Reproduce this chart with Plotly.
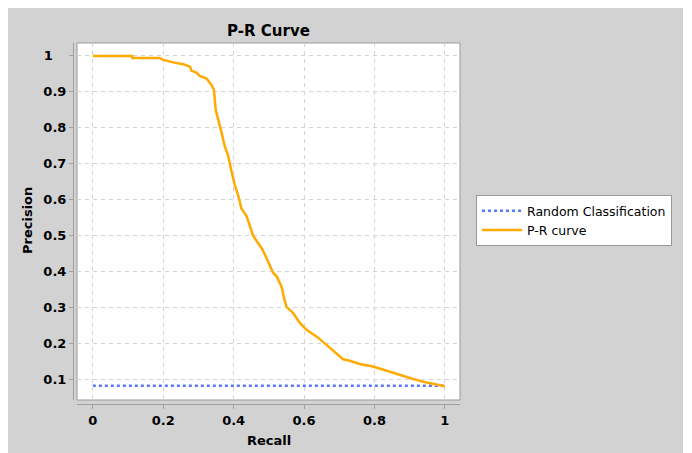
import plotly.graph_objects as go

# Data
recall = [0, 0.111, 0.112, 0.19, 0.2, 0.228, 0.257, 0.276, 0.280, 0.295, 0.304, 0.323,
          0.337, 0.344, 0.349, 0.356, 0.366, 0.375, 0.384, 0.394, 0.403, 0.415, 0.422,
          0.437, 0.446, 0.455, 0.465, 0.479, 0.489, 0.503, 0.512, 0.522, 0.536, 0.543,
          0.550, 0.569, 0.588, 0.607, 0.636, 0.664, 0.692, 0.711, 0.730, 0.758, 0.796,
          0.834, 0.872, 0.910, 0.948, 0.986, 1.0]
precision = [1, 1, 0.994, 0.994, 0.989, 0.982, 0.977, 0.970, 0.959, 0.953, 0.944, 0.937,
             0.919, 0.905, 0.850, 0.826, 0.785, 0.747, 0.724, 0.678, 0.641, 0.604, 0.575,
             0.553, 0.525, 0.500, 0.485, 0.465, 0.446, 0.418, 0.396, 0.386, 0.358, 0.326,
             0.301, 0.284, 0.256, 0.237, 0.218, 0.195, 0.172, 0.155, 0.151, 0.142, 0.135,
             0.123, 0.110, 0.100, 0.090, 0.082, 0.080]
random_x = [0, 1]
random_y = [0.081, 0.081]

x_ticks = [0, 0.2, 0.4, 0.6, 0.8, 1]
x_labels = ["0", "0.2", "0.4", "0.6", "0.8", "1"]
y_ticks = [0.1, 0.2, 0.3, 0.4, 0.5, 0.6, 0.7, 0.8, 0.9, 1]
y_labels = ["0.1", "0.2", "0.3", "0.4", "0.5", "0.6", "0.7", "0.8", "0.9", "1"]

# The page body adds an 8px margin; positions below are measured in the window, minus 8.
OFF = 8
W, H = 675, 445
FONT = "DejaVu Sans"
AXC = "#a0a0a0"


def px(v):
    return (v - OFF) / W


def py(v):
    return 1 - (v - OFF) / H


# y tick labels are left-aligned in the reference: pad the short one
y_text = [lab + "\u00a0" * 3 if len(lab) == 1 else lab for lab in y_labels]

fig = go.Figure()
fig.add_trace(go.Scatter(x=random_x, y=random_y, mode="lines", name="Random Classification",
                         line=dict(color="#5878f8", width=2.5, dash="3px,3px")))
fig.add_trace(go.Scatter(x=recall, y=precision, mode="lines", name="P-R curve",
                         line=dict(color="#ffaa00", width=2.5)))

grid = dict(showgrid=True, gridcolor="#d4d4d4", gridwidth=1, griddash="4px,4px", zeroline=False)
tickfont = dict(family=FONT, size=13, color="black", weight="bold")

fig.update_layout(
    width=W, height=H,
    margin=dict(l=0, r=0, t=0, b=0),
    paper_bgcolor="#d2d2d2", plot_bgcolor="white",
    font=dict(family=FONT, color="black"),
    title=dict(text="<b>P-R Curve</b>", x=px(268.5), xanchor="center", xref="paper",
               y=py(31), yanchor="middle", font=dict(family=FONT, size=15, color="black")),
    xaxis=dict(domain=[px(77), px(460)], range=[-0.045, 1.043], tickvals=x_ticks,
               ticktext=x_labels,
               anchor="free", position=py(404), showline=True, linecolor=AXC, linewidth=1,
               ticks="outside", ticklen=4, tickcolor=AXC, tickfont=tickfont, **grid),
    yaxis=dict(domain=[py(400), py(43)], range=[0.0415, 1.036], tickvals=y_ticks,
               ticktext=y_text,
               anchor="free", position=px(73), showline=True, linecolor=AXC, linewidth=1,
               ticks="outside", ticklen=4, tickcolor=AXC, tickfont=tickfont, **grid),
    showlegend=True,
    legend=dict(x=px(476), y=py(195), xanchor="left", yanchor="top",
                bgcolor="white", bordercolor="#999999", borderwidth=1, itemwidth=40,
                font=dict(family=FONT, size=12.5, color="black")),
    shapes=[
        dict(type="rect", xref="x domain", yref="y domain", x0=0, x1=1, y0=0, y1=1,
             fillcolor="white", line=dict(color="#9a9a9a", width=1), layer="below"),
    ],
    annotations=[
        dict(text="<b>Recall</b>", xref="paper", yref="paper", x=px(268.5), y=py(440),
             xanchor="center", yanchor="middle", showarrow=False,
             font=dict(family=FONT, size=13, color="black")),
        dict(text="<b>Precision</b>", xref="paper", yref="paper", x=px(27), y=py(221),
             xanchor="center", yanchor="middle", showarrow=False, textangle=-90,
             font=dict(family=FONT, size=13, color="black")),
    ],
)

fig.write_html("out.html")
